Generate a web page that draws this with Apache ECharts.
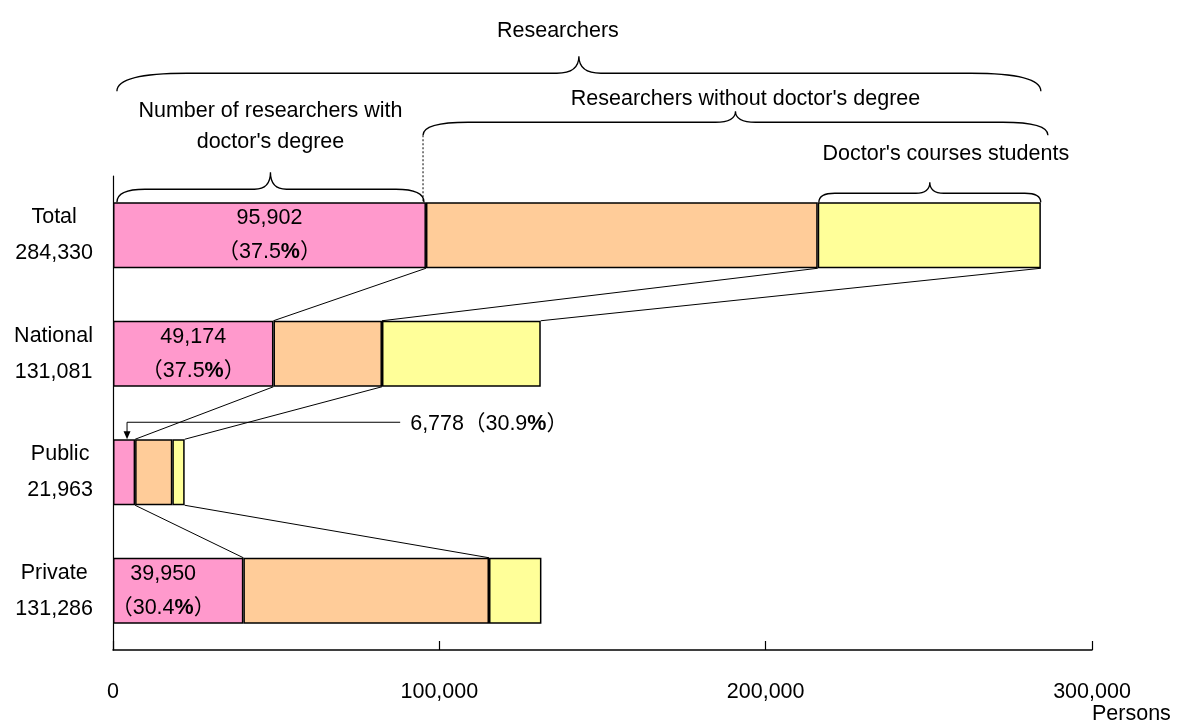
<!DOCTYPE html>
<html>
<head>
<meta charset="utf-8">
<script src="https://cdn.jsdelivr.net/npm/echarts@6/dist/echarts.min.js"></script>
<style>
html,body{margin:0;padding:0;background:#fff;}
#chart{width:1180px;height:726px;}
</style>
</head>
<body>
<div id="chart"></div>
<script>
// ---------------- data ----------------
const categories = ['Total', 'National', 'Public', 'Private'];
const totals = [284330, 131081, 21963, 131286];
const withDoctor = [95902, 49174, 6778, 39950];
const withoutDoctor = [120050, 33250, 11400, 75270];
const students = [68378, 48657, 3785, 16066];
const doctorShare = ['37.5', '37.5', '30.9', '30.4'];
const xTicks = [0, 100000, 200000, 300000];

// braces over the Total bar (value ranges)
const braceLabels = ['Researchers', "Number of researchers with\ndoctor's degree", "Researchers without doctor's degree", "Doctor's courses students"];
const braceStart = [1200, 1200, 95000, 216300];
const braceEnd = [284330, 95300, 286500, 284300];

// zoom connectors: [fromRow, fromSegmentEnd, toRow, toSegmentEnd] (0 = doctor end, 1 = without end, 2 = total end)
const connectors = [[0,0,1,0],[0,1,1,1],[0,2,1,2],[1,0,2,0],[1,1,2,2],[2,0,3,0],[2,2,3,1]];

// ---------------- layout / style ----------------
const FONT = "'Liberation Sans','Arial','Noto Sans CJK JP',sans-serif";
const FS = 21.5;
const BAR_W = 66;
const BRACE_LAYOUT = [
  {end:111, mid:129, tip:146, label:171, r:70, t:22, dx:-21, drop:false},
  {end:0,   mid:13,  tip:30,  label:76,  r:28, t:16, dx:0,   drop:false},
  {end:67,  mid:80,  tip:91,  label:103, r:45, t:20, dx:10,  drop:true},
  {end:0,   mid:9,   tip:20,  label:48,  r:16, t:14, dx:16,  drop:false}
];
const CALLOUT = {row:2, arrowAt:4300, lineTo:88000, rise:17};

const fmt = v => v.toLocaleString('en-US');
const ends = categories.map((c, i) => [withDoctor[i], withDoctor[i] + withoutDoctor[i], withDoctor[i] + withoutDoctor[i] + students[i]]);

const richBase = {fontSize: FS, fontFamily: FONT, color: '#000', align: 'center', lineHeight: 34};
const rich = {n: richBase, b: Object.assign({}, richBase, {fontWeight: 'bold'})};

const chart = echarts.init(document.getElementById('chart'), null, {renderer: 'canvas'});

const option = {
  animation: false,
  backgroundColor: '#fff',
  grid: {left: 113, right: 88, top: 176, bottom: 76, containLabel: false},
  xAxis: {
    type: 'value', min: xTicks[0], max: xTicks[xTicks.length - 1], interval: xTicks[1] - xTicks[0],
    axisLine: {show: true, lineStyle: {color: '#000', width: 1.5}},
    axisTick: {show: true, inside: true, length: 9, lineStyle: {color: '#000', width: 1.2}},
    splitLine: {show: false},
    axisLabel: {margin: 31, color: '#000', fontSize: FS, fontFamily: FONT, formatter: v => fmt(v)}
  },
  yAxis: {
    type: 'category', inverse: true, data: categories,
    axisLine: {show: true, lineStyle: {color: '#000', width: 1.2}},
    axisTick: {show: false},
    splitLine: {show: false},
    axisLabel: {
      margin: 20, color: '#000',
      formatter: (v, i) => `{c|${v}}\n{c|${fmt(totals[i])}}`,
      rich: {c: {fontSize: FS, fontFamily: FONT, color: '#000', align: 'center', lineHeight: 36}}
    }
  },
  series: [
    {
      name: "With doctor's degree", type: 'bar', stack: 'r', barWidth: BAR_W,
      itemStyle: {color: '#FF99CC', borderColor: '#000', borderWidth: 1.5},
      data: withDoctor.map((v, i) => ({value: v, label: {offset: i === 3 ? [-15, 0] : [0, 0]}})),
      label: {
        show: true, position: 'inside', align: 'center', verticalAlign: 'middle',
        formatter: p => p.dataIndex === CALLOUT.row ? '' :
          `{n|${fmt(withDoctor[p.dataIndex])}}\n{n|（${doctorShare[p.dataIndex]}}{b|%}{n|）}`,
        rich: rich
      }
    },
    {
      name: "Without doctor's degree", type: 'bar', stack: 'r', barWidth: BAR_W,
      itemStyle: {color: '#FFCC99', borderColor: '#000', borderWidth: 1.5},
      data: withoutDoctor
    },
    {
      name: "Doctor's courses students", type: 'bar', stack: 'r', barWidth: BAR_W,
      itemStyle: {color: '#FFFF99', borderColor: '#000', borderWidth: 1.5},
      data: students
    },
    {
      name: 'connectors', type: 'custom', coordinateSystem: 'cartesian2d', silent: true, z: 1,
      encode: {x: [0, 2], y: [1, 3]},
      data: connectors.map(c => [ends[c[0]][c[1]], c[0], ends[c[2]][c[3]], c[2]]),
      renderItem: (params, api) => {
        const a = api.coord([api.value(0), api.value(1)]);
        const b = api.coord([api.value(2), api.value(3)]);
        return {
          type: 'line',
          shape: {x1: a[0], y1: a[1] + BAR_W / 2, x2: b[0], y2: b[1] - BAR_W / 2},
          style: {stroke: '#000', lineWidth: 1}
        };
      }
    },
    {
      name: 'braces', type: 'custom', coordinateSystem: 'cartesian2d', silent: true, z: 3,
      encode: {x: [0, 2], y: [1, 3]},
      data: braceStart.map((s, i) => [s, 0, braceEnd[i], 0]),
      renderItem: (params, api) => {
        const i = params.dataIndex;
        const L = BRACE_LAYOUT[i];
        const p0 = api.coord([api.value(0), api.value(1)]);
        const p1 = api.coord([api.value(2), api.value(3)]);
        const barTop = p0[1] - BAR_W / 2;
        const x0 = p0[0], x1 = p1[0], xm = (x0 + x1) / 2;
        const yb = barTop - L.end, ym = barTop - L.mid, yt = barTop - L.tip;
        const d = `M${x0},${yb} Q${x0},${ym} ${x0 + L.r},${ym} L${xm - L.t},${ym} Q${xm},${ym} ${xm},${yt} ` +
                  `Q${xm},${ym} ${xm + L.t},${ym} L${x1 - L.r},${ym} Q${x1},${ym} ${x1},${yb}`;
        const children = [
          {type: 'path', shape: {pathData: d}, style: {fill: 'none', stroke: '#000', lineWidth: 1.3}},
          {type: 'text', style: {text: braceLabels[i], x: xm + L.dx, y: barTop - L.label,
            align: 'center', verticalAlign: 'middle', fontSize: FS, fontFamily: FONT, fill: '#000', lineHeight: 31}}
        ];
        if (L.drop) {
          children.push({type: 'line', shape: {x1: x0, y1: yb, x2: x0, y2: barTop},
            style: {stroke: '#000', lineWidth: 1, lineDash: [2, 2]}});
        }
        return {type: 'group', children: children};
      }
    },
    {
      name: 'callout', type: 'custom', coordinateSystem: 'cartesian2d', silent: true, z: 3,
      encode: {x: [0, 2], y: [1, 3]},
      data: [[CALLOUT.arrowAt, CALLOUT.row, CALLOUT.lineTo, CALLOUT.row]],
      renderItem: (params, api) => {
        const a = api.coord([api.value(0), api.value(1)]);
        const b = api.coord([api.value(2), api.value(3)]);
        const barTop = a[1] - BAR_W / 2;
        const yl = barTop - CALLOUT.rise;
        const i = CALLOUT.row;
        return {
          type: 'group', children: [
            {type: 'polyline', shape: {points: [[b[0], yl], [a[0], yl], [a[0], barTop - 6]]},
              style: {fill: null, stroke: '#000', lineWidth: 1}},
            {type: 'polygon', shape: {points: [[a[0] - 3.5, barTop - 8], [a[0] + 3.5, barTop - 8], [a[0], barTop]]},
              style: {fill: '#000'}},
            {type: 'text', style: {
              text: `{n|${fmt(withDoctor[i])}（${doctorShare[i]}}{b|%}{n|）}`,
              x: b[0] + 10, y: yl + 2, align: 'left', verticalAlign: 'middle',
              rich: {n: {fontSize: FS, fontFamily: FONT, fill: '#000'}, b: {fontSize: FS, fontFamily: FONT, fill: '#000', fontWeight: 'bold'}}
            }}
          ]
        };
      }
    }
  ],
  graphic: [
    {type: 'text', left: 1092, top: 703, style: {text: 'Persons', fontSize: FS, fontFamily: FONT, fill: '#000'}}
  ]
};
chart.setOption(option);
</script>
</body>
</html>
